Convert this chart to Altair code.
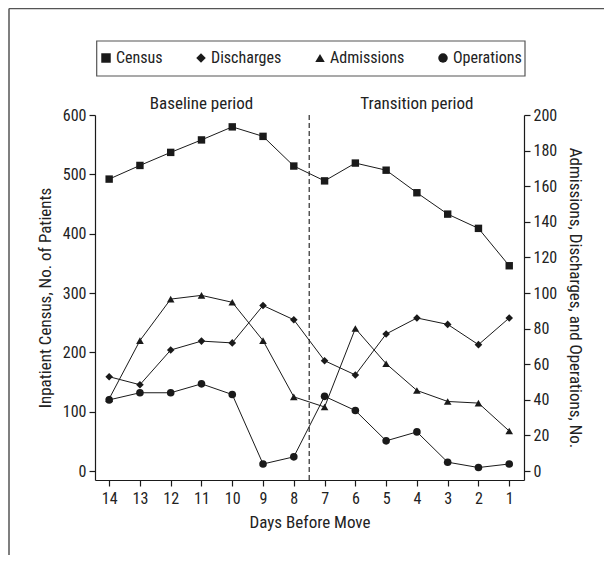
import altair as alt
import pandas as pd

days = [14, 13, 12, 11, 10, 9, 8, 7, 6, 5, 4, 3, 2, 1]
census = [492, 515, 537, 558, 580, 564, 514, 489, 519, 507, 469, 433, 409, 346]
discharges = [53, 48.5, 68, 73, 72, 93, 85, 62, 54, 77, 86, 82.4, 71, 86]
admissions = [40.6, 73.3, 96.6, 98.7, 94.8, 73.3, 41.7, 36, 80.1, 60.3, 45.3, 39.1, 38.2, 22.5]
operations = [40, 44, 44, 49, 43, 4, 8, 42, 34, 17, 22, 5, 2, 4]

series_names = ["Census", "Discharges", "Admissions", "Operations"]
series_shapes = ["square", "diamond", "triangle-up", "circle"]
period_labels = ["Baseline period", "Transition period"]
period_days = [11, 4]
move_boundary = 7.5

FONT = "Liberation Sans Narrow, Roboto Condensed, DejaVu Sans Condensed, Arial Narrow, sans-serif"
INK = "#1a1a1a"
TXT = "#222222"
FRAME = "#555555"

census_df = pd.DataFrame({"day": days, "value": census, "series": "Census"})
right_df = pd.concat([
    pd.DataFrame({"day": days, "value": operations, "series": "Operations"}),
    pd.DataFrame({"day": days, "value": discharges, "series": "Discharges"}),
    pd.DataFrame({"day": days, "value": admissions, "series": "Admissions"}),
], ignore_index=True)

x_scale = alt.Scale(domain=[0.52, 14.46], reverse=True, nice=False, zero=False)
x_axis = alt.Axis(values=days, format="d", title="Days Before Move", grid=False,
                  tickSize=6, labelPadding=4, titlePadding=8)
yl_scale = alt.Scale(domain=[-15, 600], nice=False, zero=False)
yl_axis = alt.Axis(values=[0, 100, 200, 300, 400, 500, 600], title="Inpatient Census, No. of Patients",
                   grid=False, tickSize=6, labelPadding=3, titlePadding=8, orient="left")
yr_scale = alt.Scale(domain=[-5, 200], nice=False, zero=False)
yr_axis = alt.Axis(values=list(range(0, 201, 20)), title="Admissions, Discharges, and Operations, No.",
                   grid=False, tickSize=6, labelPadding=3, titlePadding=9, orient="right")

shape_enc = alt.Shape("series:N", scale=alt.Scale(domain=series_names, range=series_shapes),
                      legend=alt.Legend(title=None, orient="none", direction="horizontal",
                                        legendX=-6, legendY=-74, padding=9,
                                        symbolSize=90, symbolFillColor=INK, symbolStrokeColor=INK,
                                        labelFontSize=16, labelColor=TXT, labelOffset=2,
                                        columnPadding=30, symbolStrokeWidth=0))

X = alt.X("day:Q", scale=x_scale, axis=x_axis)

census_line = alt.Chart(census_df).mark_line(color=INK, strokeWidth=1).encode(
    x=X, y=alt.Y("value:Q", scale=yl_scale, axis=yl_axis))
census_pts = alt.Chart(census_df).mark_point(filled=True, color=INK, opacity=1, size=55).encode(
    x=X, y=alt.Y("value:Q", scale=yl_scale, axis=yl_axis), shape=shape_enc)

ann_df = pd.DataFrame({"label": period_labels, "day": period_days, "level": [618.5, 618.5]})
annotations = alt.Chart(ann_df).mark_text(fontSize=17, color=TXT, baseline="middle").encode(
    x=alt.X("day:Q", scale=x_scale, axis=x_axis),
    y=alt.Y("level:Q", scale=yl_scale, axis=yl_axis),
    text="label:N")

divider = alt.Chart(pd.DataFrame({"b": [move_boundary]})).mark_rule(
    color=INK, strokeWidth=1.1, strokeDash=[5, 3]).encode(
    x=alt.X("b:Q", scale=x_scale, axis=x_axis))

left = alt.layer(census_line, census_pts, divider, annotations)

right_lines = alt.Chart(right_df).mark_line(color=INK, strokeWidth=1).encode(
    x=X, y=alt.Y("value:Q", scale=yr_scale, axis=yr_axis), detail="series:N")
right_pts = alt.Chart(right_df).mark_point(filled=True, color=INK, opacity=1, size=58).encode(
    x=X, y=alt.Y("value:Q", scale=yr_scale, axis=yr_axis), shape=shape_enc)
right = alt.layer(right_lines, right_pts)

one = pd.DataFrame({"k": [0]})
frame_top = alt.Chart(one).mark_rule(color=FRAME, strokeWidth=1.5).encode(
    x=alt.value(-86), x2=alt.value(509), y=alt.value(-106.5))
frame_left = alt.Chart(one).mark_rule(color=FRAME, strokeWidth=1.5).encode(
    x=alt.value(-86), y=alt.value(-106.5), y2=alt.value(440))
legend_box = alt.Chart(one).mark_rect(fill=None, fillOpacity=0, stroke=FRAME, strokeWidth=1.2).encode(
    x=alt.value(1.7), x2=alt.value(430), y=alt.value(-74), y2=alt.value(-39))

chart = alt.layer(left, right, frame_top, frame_left, legend_box).resolve_scale(y="independent").properties(
    width=429, height=365,
    autosize=alt.AutoSizeParams(type="none"),
    padding={"left": 87, "top": 107, "right": 80, "bottom": 75},
).configure(font=FONT).configure_view(stroke=None).configure_axis(
    labelFontSize=16, titleFontSize=17, titleFontWeight="normal",
    labelColor=TXT, titleColor=TXT, domainColor=INK, tickColor=INK,
    domainWidth=1.2, tickWidth=1.2)

chart.save("out.html", embed_options={"renderer": "svg", "actions": False})
